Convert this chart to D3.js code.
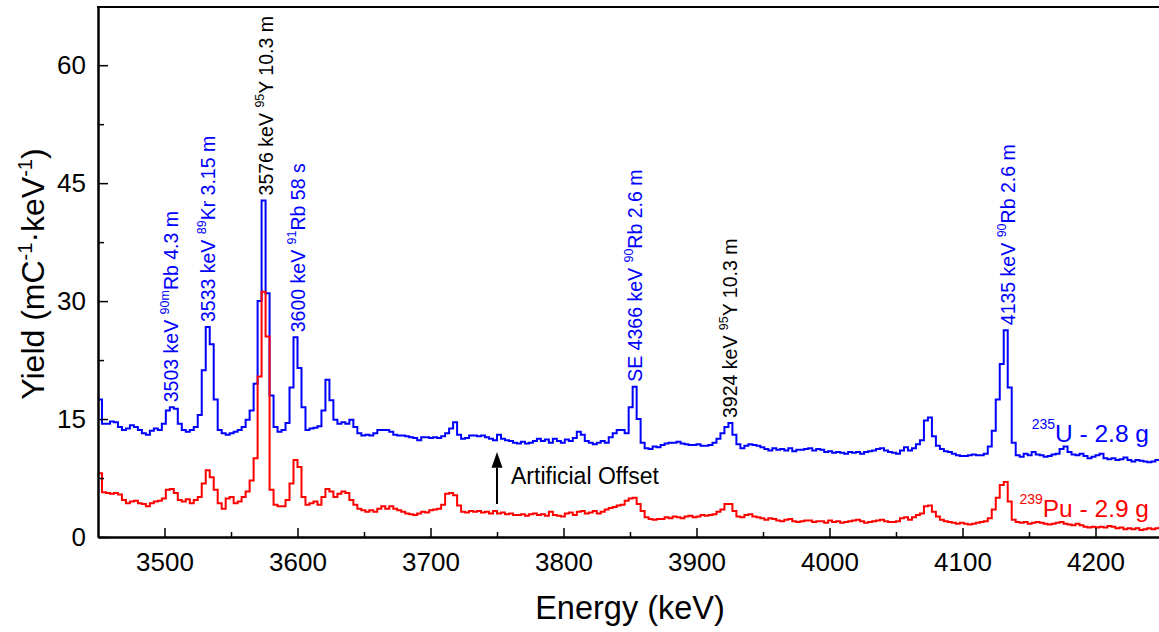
<!DOCTYPE html>
<html>
<head>
<meta charset="utf-8">
<script src="https://cdn.jsdelivr.net/npm/d3@7"></script>
<style>
  html, body { margin: 0; padding: 0; background: #fff; }
  svg { display: block; }
  text { font-family: Arial, "Liberation Sans", sans-serif; }
</style>
</head>
<body>
<svg id="chart" width="1159" height="632"></svg>
<script>
// Spectrum binning (keV)
const binStart = 3450;
const binWidth = 3;

// 235U (2.8 g) yield per bin, mC^-1 keV^-1 (offset spectrum)
const uYield = [
  17.5, 14.4, 14.4, 14.7, 14.6, 14.0, 13.6, 13.8, 14.2, 14.0,
  13.6, 13.2, 13.0, 13.5, 13.8, 13.6, 14.4, 16.1, 16.5, 16.3,
  14.4, 13.6, 13.4, 13.6, 14.0, 15.5, 21.2, 26.7, 24.5, 17.5,
  13.6, 13.2, 13.0, 13.2, 13.4, 13.6, 14.0, 14.9, 16.1, 19.5,
  30.0, 42.8, 31.0, 18.0, 14.0, 13.4, 13.6, 14.5, 19.0, 25.4,
  21.5, 16.5, 13.6, 13.8, 13.9, 14.1, 16.1, 20.0, 17.4, 14.9,
  14.4, 14.6, 14.4, 14.9, 14.0, 13.2, 12.9, 13.0, 12.9, 13.2,
  13.6, 13.6, 13.6, 13.4, 13.0, 12.9, 12.9, 12.8, 12.7, 12.6,
  12.3, 12.7, 12.7, 12.6, 12.7, 12.6, 12.8, 13.2, 13.8, 14.6,
  13.0, 12.5, 12.6, 12.9, 12.9, 12.8, 12.9, 12.7, 12.5, 12.3,
  13.0, 12.5, 12.3, 12.2, 12.0, 11.9, 12.1, 11.9, 12.0, 12.2,
  12.5, 12.2, 12.4, 12.0, 12.5, 12.2, 12.0, 12.4, 12.2, 12.6,
  13.4, 13.0, 12.2, 12.0, 11.8, 12.0, 12.2, 12.0, 12.7, 13.2,
  13.6, 13.6, 13.2, 16.5, 19.1, 15.0, 12.0, 11.3, 11.2, 11.5,
  11.4, 11.7, 11.9, 12.0, 12.0, 12.1, 11.9, 11.8, 11.7, 11.7,
  11.8, 11.6, 11.6, 11.7, 12.0, 12.5, 13.2, 14.0, 14.5, 13.0,
  11.8, 11.3, 11.6, 11.8, 11.7, 11.6, 11.4, 11.2, 11.0, 11.3,
  11.1, 11.2, 11.0, 11.3, 10.9, 11.1, 11.1, 11.2, 11.3, 11.0,
  11.2, 11.1, 10.8, 10.9, 10.7, 10.8, 10.7, 10.6, 10.8, 10.7,
  10.8, 10.6, 10.8, 10.9, 11.0, 11.2, 11.3, 11.0, 10.8, 10.7,
  10.6, 11.0, 11.4, 11.0, 11.3, 11.8, 12.3, 14.8, 15.2, 12.8,
  11.6, 11.2, 10.9, 10.8, 10.6, 10.4, 10.3, 10.3, 10.4, 10.5,
  10.4, 10.4, 10.6, 11.5, 13.5, 17.5, 22.0, 26.3, 19.0, 12.0,
  10.4, 10.2, 10.6, 10.4, 10.8, 10.5, 10.4, 10.2, 10.3, 10.5,
  10.6, 11.2, 11.5, 10.8, 10.5, 10.4, 10.6, 10.3, 10.0, 10.2,
  10.4, 10.6, 10.0, 9.9, 10.0, 9.8, 9.9, 10.1, 9.8, 9.6,
  9.8, 9.7, 9.6, 9.5, 9.6, 9.8, 9.8
];

// 239Pu (2.9 g) yield per bin, mC^-1 keV^-1
const puYield = [
  8.1, 5.7, 5.6, 5.5, 5.6, 5.4, 4.7, 4.3, 4.5, 4.6,
  4.3, 4.2, 3.9, 4.3, 4.5, 4.6, 4.9, 6.0, 6.1, 5.6,
  4.7, 4.5, 4.8, 4.3, 4.7, 5.1, 6.8, 8.5, 7.6, 6.0,
  4.3, 3.6, 4.9, 5.1, 4.3, 4.5, 5.1, 5.8, 7.2, 10.0,
  20.4, 31.2, 25.5, 6.0, 4.1, 3.9, 3.9, 4.7, 6.8, 9.8,
  8.9, 5.1, 4.1, 4.3, 4.5, 4.1, 5.1, 6.1, 5.8, 5.1,
  5.5, 5.8, 5.6, 4.7, 4.1, 3.6, 3.4, 3.2, 3.4, 3.2,
  3.6, 3.9, 3.6, 3.9, 3.6, 3.4, 3.2, 3.0, 2.9, 2.8,
  3.0, 3.2, 3.1, 3.4, 3.5, 3.6, 4.1, 5.5, 5.6, 5.3,
  4.0, 3.2, 3.1, 3.3, 3.2, 3.3, 3.1, 3.2, 3.0, 3.3,
  3.0, 3.1, 2.9, 3.0, 2.8, 2.8, 2.9, 2.7, 2.9, 3.0,
  2.8, 2.9, 2.7, 3.2, 2.8, 2.7, 2.6, 3.0, 3.1, 2.8,
  3.2, 3.3, 3.0, 3.1, 3.3, 3.0, 3.2, 3.5, 3.7, 3.8,
  4.0, 4.1, 4.6, 4.9, 5.0, 4.2, 3.3, 2.5, 2.3, 2.2,
  2.3, 2.3, 2.5, 2.4, 2.6, 2.5, 2.4, 2.6, 2.7, 2.5,
  2.6, 2.8, 2.7, 2.8, 2.9, 3.2, 3.5, 4.2, 4.2, 3.3,
  2.6, 2.5, 2.8, 2.9, 2.6, 2.5, 2.4, 2.2, 2.4, 2.3,
  2.1, 2.0, 2.2, 2.3, 2.0, 1.9, 2.0, 2.1, 2.1, 1.9,
  2.0, 2.0, 1.8, 2.1, 1.9, 2.0, 1.8, 1.9, 2.0, 2.1,
  2.2, 2.0, 1.8, 1.9, 2.0, 2.1, 2.2, 2.0, 1.9, 1.9,
  2.0, 2.4, 2.5, 2.2, 2.5, 2.8, 3.0, 3.9, 4.0, 3.2,
  2.6, 2.2, 2.0, 1.9, 1.8, 1.7, 1.8, 1.7, 1.6, 1.7,
  1.8, 1.9, 2.0, 2.4, 3.5, 5.0, 6.6, 7.0, 4.5, 2.2,
  1.9, 1.8, 1.9, 1.7, 1.8, 1.9, 1.8, 1.7, 1.6, 1.7,
  1.8, 1.9, 1.7, 1.6, 1.5, 1.7, 1.5, 1.3, 1.2, 1.3,
  1.2, 1.3, 1.2, 1.4, 1.3, 1.1, 1.2, 1.0, 1.1, 1.0,
  1.1, 0.9, 1.0, 1.1, 1.0, 1.1, 1.2
];

// Axis ticks
const xMajorTicks = [3500, 3600, 3700, 3800, 3900, 4000, 4100, 4200];
const xMinorTicks = [3550, 3650, 3750, 3850, 3950, 4050, 4150, 4250];
const yMajorTicks = [0, 15, 30, 45, 60];
const yMinorTicks = [7.5, 22.5, 37.5, 52.5];

// Peak identifications: energy position, colour, text parts ([..] = superscript)
const peakLabels = [
  { e: 3505, color: "#0000ff", parts: ["3503 keV ", ["90m"], "Rb 4.3 m"] },
  { e: 3533, color: "#0000ff", parts: ["3533 keV ", ["89"], "Kr 3.15 m"] },
  { e: 3576, color: "#000000", parts: ["3576 keV ", ["95"], "Y 10.3 m"] },
  { e: 3600, color: "#0000ff", parts: ["3600 keV ", ["91"], "Rb 58 s"] },
  { e: 3854, color: "#0000ff", parts: ["SE 4366 keV ", ["90"], "Rb 2.6 m"] },
  { e: 3925, color: "#000000", parts: ["3924 keV ", ["95"], "Y 10.3 m"] },
  { e: 4134, color: "#0000ff", parts: ["4135 keV ", ["90"], "Rb 2.6 m"] }
];

const seriesLabels = [
  { sup: "235", text: "U - 2.8 g", color: "#0000ff", baseline: 442 },
  { sup: "239", text: "Pu - 2.9 g", color: "#ff0000", baseline: 517 }
];

const svg = d3.select("#chart");
const W = 1159, H = 632;
const plot = { left: 98, right: 1162, top: 7, bottom: 537 };

const x = d3.scaleLinear().domain([3450, 4250]).range([plot.left, plot.right]);
const y = d3.scaleLinear().domain([0, 67.4]).range([plot.bottom, plot.top]);

svg.append("rect").attr("width", W).attr("height", H).attr("fill", "#fff");

svg.append("defs").append("clipPath").attr("id", "plotClip")
  .append("rect")
  .attr("x", plot.left).attr("y", plot.top)
  .attr("width", plot.right - plot.left).attr("height", plot.bottom - plot.top);

// Histogram step path: one point per bin start, plus the closing edge of the last bin
function stepPoints(values) {
  const pts = values.map((v, i) => [binStart + i * binWidth, v]);
  pts.push([binStart + values.length * binWidth, values[values.length - 1]]);
  return pts;
}
const line = d3.line()
  .x(d => x(d[0]))
  .y(d => y(d[1]))
  .curve(d3.curveStepAfter);

const traces = svg.append("g").attr("clip-path", "url(#plotClip)");
traces.append("path")
  .attr("d", line(stepPoints(uYield)))
  .attr("fill", "none").attr("stroke", "#0000ff").attr("stroke-width", 2)
  .attr("stroke-linejoin", "miter");
traces.append("path")
  .attr("d", line(stepPoints(puYield)))
  .attr("fill", "none").attr("stroke", "#ff0000").attr("stroke-width", 2)
  .attr("stroke-linejoin", "miter");

// Axes (ticks point inward)
const axisStyle = g => {
  g.selectAll("path.domain").attr("stroke", "#000").attr("stroke-width", 2);
  g.selectAll(".tick line").attr("stroke", "#000").attr("stroke-width", 1.5);
  g.selectAll(".tick text").attr("fill", "#000")
    .style("font-family", "Arial, 'Liberation Sans', sans-serif")
    .style("font-size", "26px");
};

svg.append("g")
  .attr("transform", `translate(0,${plot.bottom})`)
  .call(d3.axisBottom(x).tickValues(xMinorTicks).tickSizeInner(-5).tickSizeOuter(0).tickFormat(""))
  .call(axisStyle);
svg.append("g")
  .attr("transform", `translate(0,${plot.bottom})`)
  .call(d3.axisBottom(x).tickValues(xMajorTicks).tickSizeInner(-9).tickSizeOuter(0)
    .tickPadding(16).tickFormat(d3.format("d")))
  .call(axisStyle);

svg.append("g")
  .attr("transform", `translate(${plot.left},0)`)
  .call(d3.axisLeft(y).tickValues(yMinorTicks).tickSizeInner(-6).tickSizeOuter(0).tickFormat(""))
  .call(axisStyle);
svg.append("g")
  .attr("transform", `translate(${plot.left},0)`)
  .call(d3.axisLeft(y).tickValues(yMajorTicks).tickSizeInner(-10).tickSizeOuter(0)
    .tickPadding(12).tickFormat(d3.format("d")))
  .call(axisStyle);

// Top frame line
svg.append("line")
  .attr("x1", plot.left - 1).attr("x2", plot.right)
  .attr("y1", plot.top).attr("y2", plot.top)
  .attr("stroke", "#000").attr("stroke-width", 2);

// Axis titles
svg.append("text")
  .attr("x", 630).attr("y", 619)
  .attr("text-anchor", "middle")
  .style("font-size", "32.5px")
  .text("Energy (keV)");

const yTitle = svg.append("text")
  .attr("transform", "translate(44,274) rotate(-90)")
  .attr("text-anchor", "middle")
  .style("font-size", "32px");
yTitle.append("tspan").text("Yield (mC");
yTitle.append("tspan").attr("dy", -12).style("font-size", "20px").text("-1");
yTitle.append("tspan").attr("dy", 12).text("\u00B7keV");
yTitle.append("tspan").attr("dy", -12).style("font-size", "20px").text("-1");
yTitle.append("tspan").attr("dy", 12).text(")");

// Peak labels, rotated, starting just above each 235U peak
function peakHeight(e) {
  const i = Math.floor((e - binStart) / binWidth);
  return d3.max(uYield.slice(Math.max(0, i - 1), i + 2));
}
peakLabels.forEach(p => {
  const t = svg.append("text")
    .attr("transform", `translate(${x(p.e) + 7},${y(peakHeight(p.e)) - 5}) rotate(-90)`)
    .attr("text-anchor", "start")
    .attr("fill", p.color)
    .style("font-size", "19.5px");
  let raised = false;
  p.parts.forEach(part => {
    if (Array.isArray(part)) {
      t.append("tspan").attr("dy", -9).style("font-size", "12.5px").text(part[0]);
      raised = true;
    } else {
      const s = t.append("tspan").text(part);
      if (raised) { s.attr("dy", 9); raised = false; }
    }
  });
});

// Series labels
seriesLabels.forEach(s => {
  const t = svg.append("text")
    .attr("x", 1149).attr("y", s.baseline)
    .attr("text-anchor", "end")
    .attr("fill", s.color)
    .style("font-size", "24.5px");
  t.append("tspan").attr("dy", -13).style("font-size", "14px").text(s.sup);
  t.append("tspan").attr("dy", 13).text(s.text);
});

// Offset arrow
const arrowE = 3750;
const ax = x(arrowE);
svg.append("line")
  .attr("x1", ax).attr("x2", ax)
  .attr("y1", y(4.2)).attr("y2", y(8.8))
  .attr("stroke", "#000").attr("stroke-width", 2);
svg.append("path")
  .attr("d", `M${ax},${y(10.8)} L${ax - 5.5},${y(8.8)} L${ax + 5.5},${y(8.8)} Z`)
  .attr("fill", "#000");
svg.append("text")
  .attr("x", ax + 14).attr("y", 484)
  .style("font-size", "23px")
  .text("Artificial Offset");
</script>
</body>
</html>
